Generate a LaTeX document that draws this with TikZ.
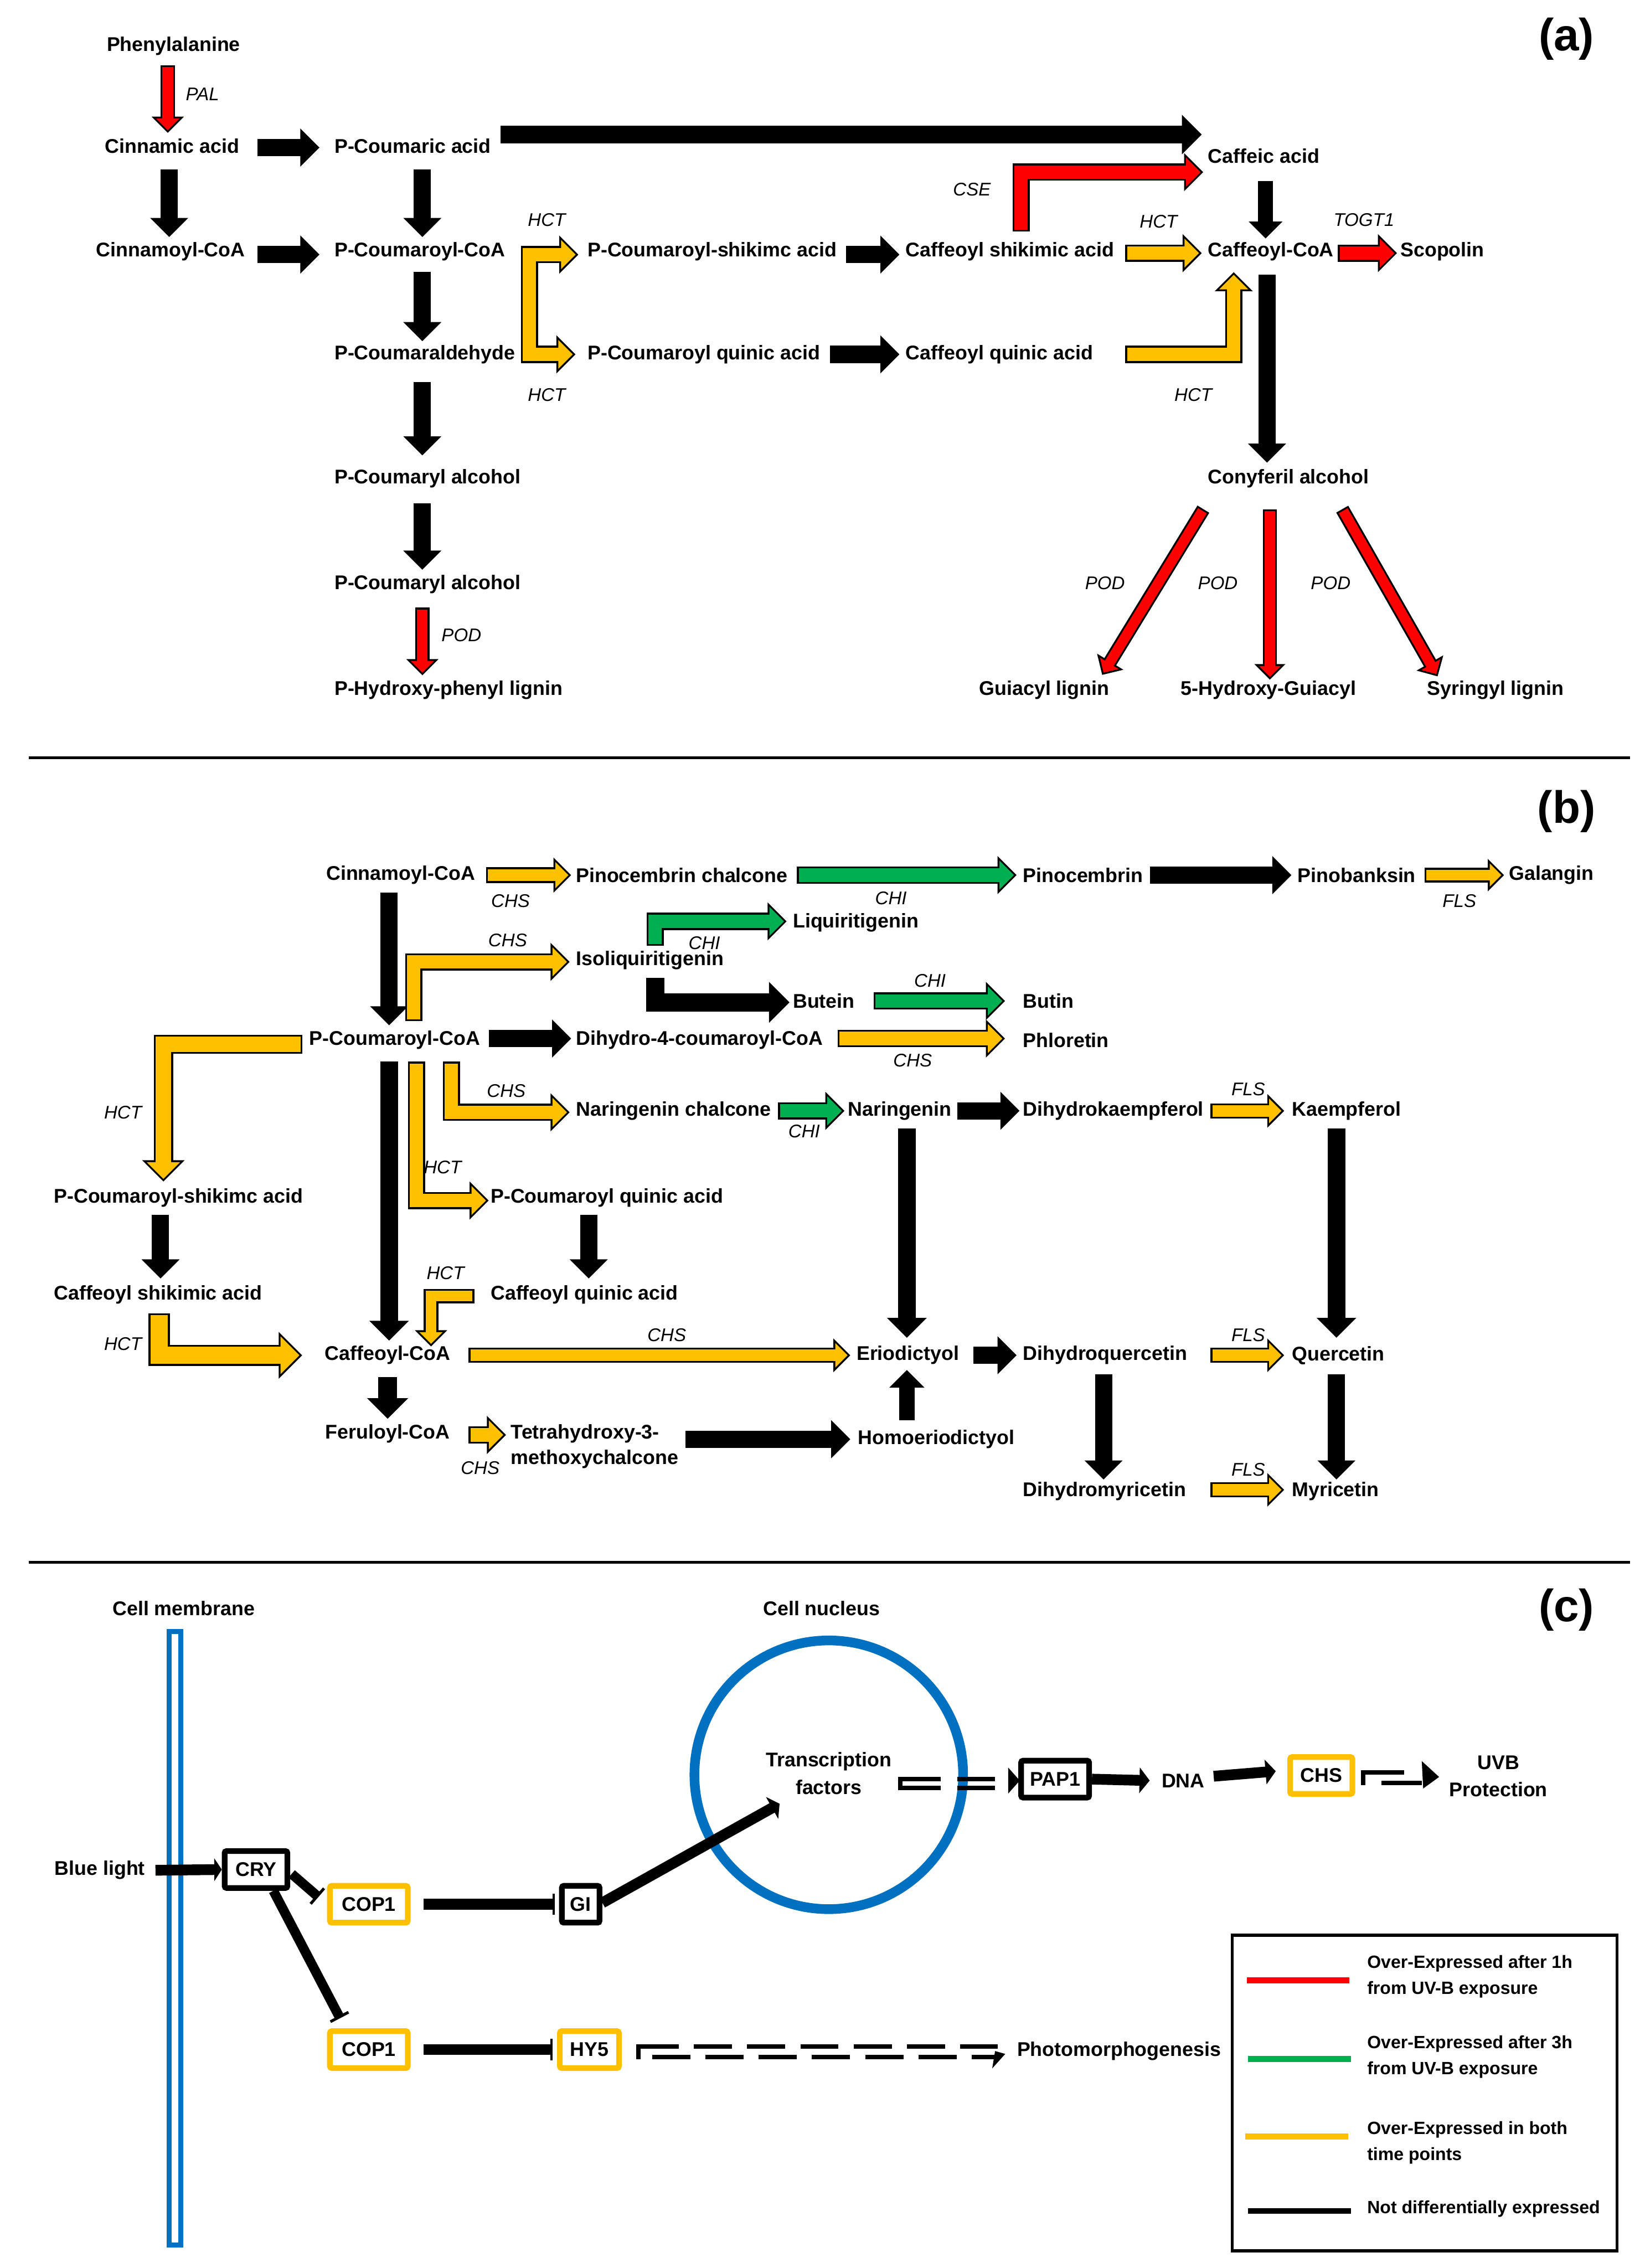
\documentclass[tikz,border=0pt]{standalone}
\usepackage{fontspec}
\setmainfont{Liberation Sans}
\usetikzlibrary{calc, arrows.meta}
\definecolor{rd}{HTML}{FF0000}
\definecolor{grn}{HTML}{00B050}
\definecolor{yel}{HTML}{FFC000}
\definecolor{memblue}{HTML}{0070C0}
\pgfdeclarelayer{arrline}
\pgfdeclarelayer{arrfill}
\pgfsetlayers{arrline,arrfill,main}
\def\arbw{0.035cm}
% block arrow: [size]{colour}{path up to last corner}{last corner}{tip}
\newcommand{\barr}[5][1]{%
  \pgfmathsetlengthmacro{\arsw}{#1*0.25cm}%
  \pgfmathsetlengthmacro{\arhh}{#1*0.27cm}%
  \pgfmathsetlengthmacro{\arhl}{#1*0.27cm}%
  \coordinate (ptip) at #5;
  \coordinate (pprv) at #4;
  \coordinate (hb) at ($(ptip)!\arhl!(pprv)$);
  \coordinate (hL) at ($(hb)!\arhh!90:(ptip)$);
  \coordinate (hR) at ($(hb)!\arhh!-90:(ptip)$);
  \begin{pgfonlayer}{arrline}
    \draw[line width=\arsw+2*\arbw, line join=miter] #3 -- (hb);
    \filldraw[line width=2*\arbw, line join=miter] (hL) -- (ptip) -- (hR) -- cycle;
  \end{pgfonlayer}
  \begin{pgfonlayer}{arrfill}
    \draw[#2, line width=\arsw, line join=miter, shorten <=\arbw, shorten >=-0.5pt] #3 -- (hb);
    \fill[#2] (hL) -- (ptip) -- (hR) -- cycle;
  \end{pgfonlayer}}
\newcommand{\sarr}[4][1]{\barr[#1]{#2}{#3}{#3}{#4}}

\tikzset{
  cmp/.style={font=\bfseries\fontsize{10.5}{13.75}\selectfont, inner sep=0pt},
  enz/.style={font=\itshape\fontsize{9.7}{11}\selectfont, inner sep=0pt},
  panel/.style={font=\bfseries\fontsize{24}{28}\selectfont, inner sep=0pt},
  legt/.style={font=\bfseries\fontsize{9.4}{13.8}\selectfont, inner sep=0pt, align=left, anchor=west},
  gbox/.style={cmp, draw=black, line width=3pt, rounded corners=1pt, minimum height=0.686cm},
  ybox/.style={gbox, draw=yel},
  sig/.style={line width=0.2cm},
  dd/.style={line width=2.3pt}
}

\begin{document}
\begin{tikzpicture}[x=0.02692cm, y=-0.02692cm]
    \useasboundingbox (0,0) rectangle (1137,1568);

    \node[panel] (pa) at (1083,27) {(a)};
    \node[panel] (pb) at (1083,561) {(b)};
    \node[panel] (pc) at (1083,1113) {(c)};
    \draw[line width=1.5pt] (20,524) -- (1127,524);
    \draw[line width=1.5pt] (20,1080) -- (1127,1080);

    \node[cmp] (phe) at (120,32) {Phenylalanine};
    \node[cmp] (cin) at (119,101) {Cinnamic acid};
    \node[cmp] (cinc) at (118,174) {Cinnamoyl-CoA};
    \node[cmp, anchor=west] (pca) at (231,101) {P-Coumaric acid};
    \node[cmp, anchor=west] (pcoa) at (231,174) {P-Coumaroyl-CoA};
    \node[cmp, anchor=west] (pald) at (231,245) {P-Coumaraldehyde};
    \node[cmp, anchor=west] (palc1) at (231,331) {P-Coumaryl alcohol};
    \node[cmp, anchor=west] (palc2) at (231,404) {P-Coumaryl alcohol};
    \node[cmp, anchor=west] (phl) at (231,477) {P-Hydroxy-phenyl lignin};
    \node[cmp, anchor=west] (pcsh) at (406,174) {P-Coumaroyl-shikimc acid};
    \node[cmp, anchor=west] (pcqu) at (406,245) {P-Coumaroyl quinic acid};
    \node[cmp, anchor=west] (cfsh) at (626,174) {Caffeoyl shikimic acid};
    \node[cmp, anchor=west] (cfqu) at (626,245) {Caffeoyl quinic acid};
    \node[cmp, anchor=west] (cfa) at (835,108) {Caffeic acid};
    \node[cmp, anchor=west] (cfc) at (835,174) {Caffeoyl-CoA};
    \node[cmp, anchor=west] (sco) at (968,174) {Scopolin};
    \node[cmp, anchor=west] (con) at (835,331) {Conyferil alcohol};
    \node[cmp] (gui) at (722,477) {Guiacyl lignin};
    \node[cmp] (hgui) at (877,477) {5-Hydroxy-Guiacyl};
    \node[cmp] (syr) at (1034,477) {Syringyl lignin};

    \node[enz] (e1) at (140,65) {PAL};
    \node[enz] (e2) at (378,152) {HCT};
    \node[enz] (e3) at (378,273) {HCT};
    \node[enz] (e4) at (672,131) {CSE};
    \node[enz] (e5) at (801,153) {HCT};
    \node[enz] (e6) at (943,152) {TOGT1};
    \node[enz] (e7) at (825,273) {HCT};
    \node[enz] (e8) at (319,439) {POD};
    \node[enz] (e9) at (764,403) {POD};
    \node[enz] (e10) at (842,403) {POD};
    \node[enz] (e11) at (920,403) {POD};

    \sarr[0.8]{rd}{($(phe)+(-4,13)$)}{($(cin)+(-3,-11)$)}
    \sarr{black}{($(cin)+(59,1)$)}{($(pca.west)+(-12,1)$)}
    \sarr{black}{($(cin)+(-2,16)$)}{($(cinc)+(-1,-12)$)}
    \sarr{black}{($(pca.west)+(61,16)$)}{($(pcoa.west)+(61,-12)$)}
    \sarr{black}{($(cinc)+(60,2)$)}{($(pcoa.west)+(-12,2)$)}
    \sarr{black}{($(pcoa.west)+(61,14)$)}{($(pald.west)+(61,-11)$)}
    \sarr{black}{($(pald.west)+(61,19)$)}{($(palc1.west)+(61,-18)$)}
    \sarr{black}{($(palc1.west)+(61,17)$)}{($(palc2.west)+(61,-12)$)}
    \sarr[0.8]{rd}{($(palc2.west)+(61,16)$)}{($(phl.west)+(61,-12)$)}
    \sarr[1.05]{black}{($(pca.west)+(115,-8)$)}{($(cfa.west)+(-6,-15)$)}
    \barr{yel}{($(pcqu.west)+(-40,0)$) -- ($(pcsh.west)+(-40,2)$)}{($(pcsh.west)+(-40,2)$)}{($(pcsh.west)+(-8,2)$)}
    \barr{yel}{($(pcsh.west)+(-40,2)$) -- ($(pcqu.west)+(-40,0)$)}{($(pcqu.west)+(-40,0)$)}{($(pcqu.west)+(-10,0)$)}
    \sarr{black}{($(pcsh.west)+(179,2)$)}{($(cfsh.west)+(-6,2)$)}
    \sarr{black}{($(pcqu.west)+(168,0)$)}{($(cfqu.west)+(-6,0)$)}
    \sarr{yel}{($(cfsh.west)+(152,1)$)}{($(cfc.west)+(-6,1)$)}
    \barr{rd}{($(cfsh.west)+(80,-14)$) -- ($(cfsh.west)+(80,-55)$)}{($(cfsh.west)+(80,-55)$)}{($(cfa.west)+(-5,11)$)}
    \sarr[0.85]{black}{($(cfa.west)+(40,17)$)}{($(cfc.west)+(40,-11)$)}
    \barr{yel}{($(cfqu.west)+(152,0)$) -- ($(cfc.west)+(18,71)$)}{($(cfc.west)+(18,71)$)}{($(cfc.west)+(18,16)$)}
    \sarr{rd}{($(cfc.west)+(90,1)$)}{($(sco.west)+(-4,1)$)}
    \sarr{black}{($(cfc.west)+(41,16)$)}{($(con.west)+(41,-13)$)}
    \sarr[0.75]{rd}{($(con.west)+(-3,21)$)}{($(gui)+(41,-12)$)}
    \sarr[0.75]{rd}{($(con.west)+(43,21)$)}{($(hgui)+(1,-9)$)}
    \sarr[0.75]{rd}{($(con.west)+(93,21)$)}{($(syr)+(-41,-11)$)}

    \node[cmp] (bcinc) at (277,605) {Cinnamoyl-CoA};
    \node[cmp, anchor=west] (pinch) at (398,605) {Pinocembrin chalcone};
    \node[cmp, anchor=west] (pino) at (707,605) {Pinocembrin};
    \node[cmp, anchor=west] (pinob) at (897,605) {Pinobanksin};
    \node[cmp, anchor=west] (gal) at (1043,605) {Galangin};
    \node[cmp, anchor=west] (liq) at (548,638) {Liquiritigenin};
    \node[cmp, anchor=west] (iso) at (398,664) {Isoliquiritigenin};
    \node[cmp, anchor=west] (but) at (548,692) {Butein};
    \node[cmp, anchor=west] (btn) at (707,692) {Butin};
    \node[cmp] (bpcoa) at (273,719) {P-Coumaroyl-CoA};
    \node[cmp, anchor=west] (dhc) at (398,719) {Dihydro-4-coumaroyl-CoA};
    \node[cmp, anchor=west] (phlo) at (707,719) {Phloretin};
    \node[cmp, anchor=west] (narch) at (398,768) {Naringenin chalcone};
    \node[cmp, anchor=west] (nar) at (586,768) {Naringenin};
    \node[cmp, anchor=west] (dhk) at (707,768) {Dihydrokaempferol};
    \node[cmp, anchor=west] (kae) at (893,768) {Kaempferol};
    \node[cmp, anchor=west] (bpcsh) at (37,828) {P-Coumaroyl-shikimc acid};
    \node[cmp, anchor=west] (bpcqu) at (339,828) {P-Coumaroyl quinic acid};
    \node[cmp, anchor=west] (bcfsh) at (37,895) {Caffeoyl shikimic acid};
    \node[cmp, anchor=west] (bcfqu) at (339,895) {Caffeoyl quinic acid};
    \node[cmp] (bcfc) at (268,937) {Caffeoyl-CoA};
    \node[cmp, anchor=west] (eri) at (592,937) {Eriodictyol};
    \node[cmp, anchor=west] (dhq) at (707,937) {Dihydroquercetin};
    \node[cmp, anchor=west] (que) at (893,937) {Quercetin};
    \node[cmp] (fer) at (268,991) {Feruloyl-CoA};
    \node[cmp, anchor=west, align=left] (thm) at (353,1000) {Tetrahydroxy-3-\\methoxychalcone};
    \node[cmp, anchor=west] (hom) at (593,995) {Homoeriodictyol};
    \node[cmp, anchor=west] (dhm) at (707,1031) {Dihydromyricetin};
    \node[cmp, anchor=west] (myr) at (893,1031) {Myricetin};

    \node[enz] (f1) at (353,623) {CHS};
    \node[enz] (f2) at (616,621) {CHI};
    \node[enz] (f3) at (487,652) {CHI};
    \node[enz] (f4) at (351,650) {CHS};
    \node[enz] (f5) at (643,678) {CHI};
    \node[enz] (f6) at (631,733) {CHS};
    \node[enz] (f7) at (350,754) {CHS};
    \node[enz] (f8) at (556,782) {CHI};
    \node[enz] (f9) at (1009,623) {FLS};
    \node[enz] (f10) at (863,753) {FLS};
    \node[enz] (f11) at (85,769) {HCT};
    \node[enz] (f12) at (306,807) {HCT};
    \node[enz] (f13) at (308,880) {HCT};
    \node[enz] (f14) at (85,929) {HCT};
    \node[enz] (f15) at (461,923) {CHS};
    \node[enz] (f16) at (863,923) {FLS};
    \node[enz] (f17) at (332,1015) {CHS};
    \node[enz] (f18) at (863,1016) {FLS};

    \sarr[0.9]{yel}{($(bcinc)+(59,0)$)}{($(pinch.west)+(-5,0)$)}
    \sarr{grn}{($(pinch.west)+(153,0)$)}{($(pino.west)+(-6,0)$)}
    \sarr{black}{($(pino.west)+(88,0)$)}{($(pinob.west)+(-6,0)$)}
    \sarr[0.8]{yel}{($(pinob.west)+(88,0)$)}{($(gal.west)+(-5,0)$)}
    \sarr{black}{($(bcinc)+(-8,12)$)}{($(bpcoa)+(-4,-12)$)}
    \barr{yel}{($(bpcoa)+(13,-13)$) -- ($(iso.west)+(-112,1)$)}{($(iso.west)+(-112,1)$)}{($(iso.west)+(-6,1)$)}
    \barr{grn}{($(iso.west)+(55,-10)$) -- ($(liq.west)+(-95,-1)$)}{($(liq.west)+(-95,-1)$)}{($(liq.west)+(-6,-1)$)}
    \barr[1.1]{black}{($(iso.west)+(55,12)$) -- ($(but.west)+(-95,1)$)}{($(but.west)+(-95,1)$)}{($(but.west)+(-4,1)$)}
    \sarr{grn}{($(but.west)+(56,0)$)}{($(btn.west)+(-14,0)$)}
    \sarr{black}{($(bpcoa)+(65,-1)$)}{($(dhc.west)+(-5,-1)$)}
    \sarr{yel}{($(dhc.west)+(181,-1)$)}{($(phlo.west)+(-14,-1)$)}
    \barr[1.15]{yel}{($(bpcoa)+(-64,3)$) -- ($(bpcsh.west)+(76,-106)$)}{($(bpcsh.west)+(76,-106)$)}{($(bpcsh.west)+(76,-13)$)}
    \barr{yel}{($(bpcoa)+(15,15)$) -- ($(bpcqu.west)+(-51,2)$)}{($(bpcqu.west)+(-51,2)$)}{($(bpcqu.west)+(-3,2)$)}
    \barr{yel}{($(bpcoa)+(39,15)$) -- ($(narch.west)+(-86,1)$)}{($(narch.west)+(-86,1)$)}{($(narch.west)+(-6,1)$)}
    \sarr{grn}{($(narch.west)+(140,0)$)}{($(nar.west)+(-4,0)$)}
    \sarr{black}{($(nar.west)+(76,0)$)}{($(dhk.west)+(-4,0)$)}
    \sarr[0.85]{yel}{($(dhk.west)+(130,0)$)}{($(kae.west)+(-7,0)$)}
    \sarr[1.05]{black}{($(nar.west)+(41,12)$)}{($(eri.west)+(35,-14)$)}
    \sarr[1.05]{black}{($(kae.west)+(31,12)$)}{($(que.west)+(31,-14)$)}
    \sarr{black}{($(bpcsh.west)+(74,12)$)}{($(bcfsh.west)+(74,-13)$)}
    \sarr{black}{($(bpcqu.west)+(68,12)$)}{($(bcfqu.west)+(68,-13)$)}
    \sarr[1.05]{black}{($(bpcoa)+(-4,15)$)}{($(bcfc)+(1,-12)$)}
    \barr[0.8]{yel}{($(bcfqu.west)+(-11,1)$) -- ($(bcfc)+(30,-41)$)}{($(bcfc)+(30,-41)$)}{($(bcfc)+(30,-8)$)}
    \barr[1.3]{yel}{($(bcfsh.west)+(73,13)$) -- ($(bcfc)+(-158,0)$)}{($(bcfc)+(-158,0)$)}{($(bcfc)+(-61,0)$)}
    \sarr[0.85]{yel}{($(bcfc)+(56,0)$)}{($(eri.west)+(-6,0)$)}
    \sarr{black}{($(eri.west)+(81,0)$)}{($(dhq.west)+(-6,0)$)}
    \sarr[0.85]{yel}{($(dhq.west)+(130,0)$)}{($(que.west)+(-7,0)$)}
    \sarr[1.1]{black}{($(bcfc)+(0,15)$)}{($(fer)+(0,-12)$)}
    \sarr{yel}{($(fer)+(56,1)$)}{($(thm.west)+(-5,-8)$)}
    \sarr{black}{($(thm.west)+(121,-5)$)}{($(hom.west)+(-7,0)$)}
    \sarr[0.9]{black}{($(hom.west)+(34,-13)$)}{($(eri.west)+(35,12)$)}
    \sarr{black}{($(dhq.west)+(56,13)$)}{($(dhm.west)+(56,-10)$)}
    \sarr{black}{($(que.west)+(31,13)$)}{($(myr.west)+(31,-10)$)}
    \sarr[0.85]{yel}{($(dhm.west)+(130,-1)$)}{($(myr.west)+(-7,-1)$)}

    \node[cmp] (cmem) at (127,1112) {Cell membrane};
    \node[draw=memblue, line width=0.095cm, minimum width=0.22cm, minimum height=11.41cm, inner sep=0pt] (mem) at (121,1340) {};
    \node[cmp] (cnuc) at (568,1112) {Cell nucleus};
    \node[circle, draw=memblue, line width=0.18cm, minimum size=5.0cm, inner sep=0pt] (nuc) at (573,1227) {};
    \node[cmp, align=center, font=\bfseries\fontsize{10.5}{14.5}\selectfont] (tf) at (573,1226) {Transcription\\factors};
    \node[cmp] (blue) at (69,1293) {Blue light};
    \node[gbox, minimum width=1.168cm] (cry) at (177,1292.5) {CRY};
    \node[ybox, minimum width=1.448cm] (cop1a) at (255,1316.5) {COP1};
    \node[gbox, minimum width=0.70cm] (gi) at (401.5,1316.5) {GI};
    \node[ybox, minimum width=1.448cm] (cop1b) at (255,1417) {COP1};
    \node[ybox, minimum width=1.10cm] (hy5) at (407.5,1417) {HY5};
    \node[gbox, minimum width=1.265cm] (pap) at (729.5,1230) {PAP1};
    \node[cmp] (dna) at (818,1231) {DNA};
    \node[ybox, minimum width=1.158cm] (chs) at (913.5,1227.5) {CHS};
    \node[cmp, align=center, font=\bfseries\fontsize{10.5}{14.5}\selectfont] (uvb) at (1036,1228) {UVB\\Protection};
    \node[cmp, anchor=west] (pho) at (703,1418) {Photomorphogenesis};

    \draw[sig, -{Triangle[length=0.14cm, width=0.42cm]}] ($(blue.east)+(7,0)$) -- (cry.west);
    \draw[sig, line width=0.18cm, -{Bar[width=0.38cm, line width=1.5pt]}] ($(cry.east)+(1,3)$) -- ($(cop1a.west)+(-6,-5)$);
    \draw[sig, line width=0.18cm, -{Bar[width=0.38cm, line width=1.5pt]}] ($(cry.south)+(12,0)$) -- ($(cop1b.north west)+(9,-7)$);
    \draw[sig, -{Bar[width=0.4cm, line width=1.2pt]}] ($(cop1a.east)+(9,0)$) -- ($(gi.west)+(-3,0)$);
    \draw[sig, -{Bar[width=0.4cm, line width=1.2pt]}] ($(cop1b.east)+(9,0)$) -- ($(hy5.west)+(-3,0)$);
    \draw[sig, -{Triangle[length=0.16cm, width=0.46cm]}] ($(gi.east)+(0,-1)$) -- ($(tf)+(-34,21)$);
    \draw[sig, -{Triangle[length=0.19cm, width=0.47cm]}] (pap.east) -- ($(dna.west)+(-8,0)$);
    \draw[sig, -{Triangle[length=0.19cm, width=0.45cm]}] ($(dna.east)+(6,-3)$) -- ($(chs.west)+(-8,-3)$);

    \coordinate (tfo) at ($(tf)+(48,4)$);
    \draw[dd, dash pattern=on 22.5pt off 8.9pt] (tfo) -- ($(pap.west)+(-16,0)$);
    \draw[dd, dash pattern=on 22.5pt off 8.9pt] ($(tfo)+(0,6)$) -- ($(pap.west)+(-16,6)$);
    \draw[dd] ($(tfo)+(1.5,-1.5)$) -- ($(tfo)+(1.5,7.5)$);
    \fill ($(pap.west)+(-7,-8)$) -- ($(pap.west)+(1,1)$) -- ($(pap.west)+(-7,10)$) -- cycle;

    \coordinate (hyo) at ($(hy5.east)+(10,-2)$);
    \draw[dd, dash pattern=on 20.2pt off 8pt] ($(hyo)+(3,0)$) -- ($(pho.west)+(-13,-3)$);
    \draw[dd, dash pattern=on 20.2pt off 8pt] ($(hyo)+(11,7)$) -- ($(pho.west)+(-13,4)$);
    \draw[dd] ($(hyo)+(1.5,-1.5)$) -- ($(hyo)+(1.5,8.5)$);
    \fill ($(pho.west)+(-15,0)$) -- ($(pho.west)+(-8,2)$) -- ($(pho.west)+(-17,12)$) -- cycle;

    \coordinate (cho) at ($(chs.east)+(4,-2)$);
    \draw[dd] ($(cho)+(1.5,-1.5)$) -- ($(cho)+(1.5,8.5)$);
    \draw[dd] (cho) -- ($(cho)+(30,0)$);
    \draw[dd] ($(cho)+(14,7)$) -- ($(cho)+(42,7)$);
    \fill ($(cho)+(42,-8)$) -- ($(cho)+(54,3)$) -- ($(cho)+(43,11)$) -- cycle;

    \node[draw, line width=1.6pt, minimum width=7.16cm, minimum height=5.87cm, inner sep=0pt] (leg) at (985,1447) {};
    \draw[line width=0.11cm, rd] (862,1369) -- (933,1369);
    \draw[line width=0.11cm, grn] (863,1423.5) -- (934,1423.5);
    \draw[line width=0.11cm, yel] (861,1477) -- (932,1477);
    \draw[line width=0.11cm, black] (863,1528.5) -- (934,1528.5);
    \node[legt] (l1) at (945,1366.5) {Over-Expressed after 1h\\from UV-B exposure};
    \node[legt] (l2) at (945,1422) {Over-Expressed after 3h\\from UV-B exposure};
    \node[legt] (l3) at (945,1481.5) {Over-Expressed in both\\time points};
    \node[legt] (l4) at (945,1527) {Not differentially expressed};
\end{tikzpicture}
\end{document}
